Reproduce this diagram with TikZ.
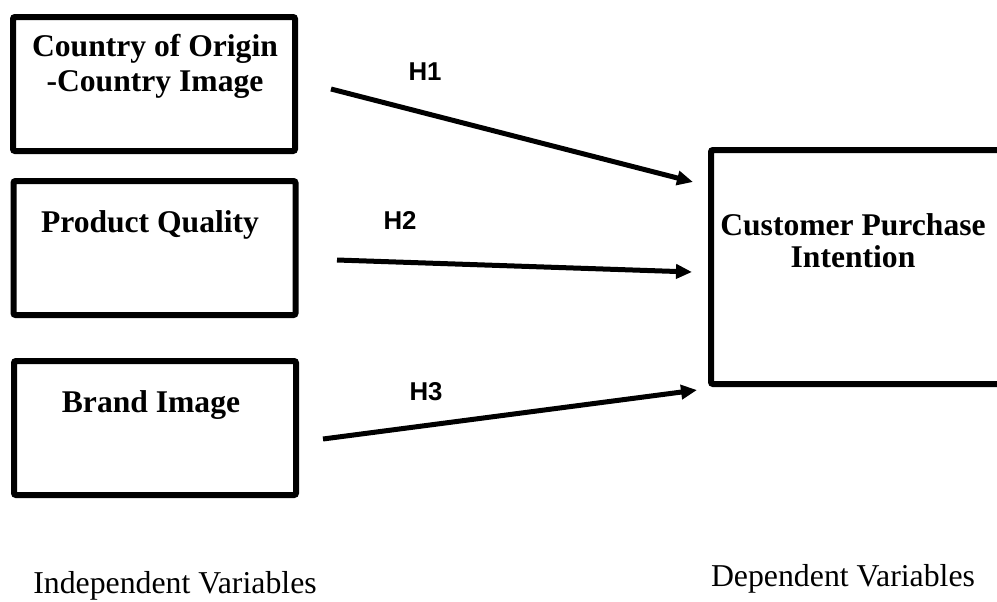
\documentclass[tikz,border=0pt]{standalone}
\usepackage{fontspec}
\setmainfont{Liberation Serif}
\newfontfamily\hfont{Liberation Sans}
\usetikzlibrary{arrows.meta}

\begin{document}
\begin{tikzpicture}[x=0.5pt,y=-0.5pt,
    varbox/.style={draw,line width=3pt,rectangle,rounded corners=1pt,minimum width=141pt,minimum height=67pt},
    vartext/.style={inner sep=0pt,align=center,font=\fontsize{15.8}{17.5}\selectfont\bfseries},
    hyp/.style={line width=2.5pt,-{Triangle[length=8pt,width=7pt]}},
    hlabel/.style={inner sep=0pt,font=\hfont\fontsize{12.9}{15}\selectfont\bfseries},
    caption/.style={inner sep=0pt,anchor=base,font=\fontsize{15.9}{18}\selectfont}]
    \useasboundingbox (0,0) rectangle (997,601);

    \node[varbox] (coo) at (154,84) {};
    \node[varbox] (pq) at (154.5,248) {};
    \node[varbox] (bi) at (155,428) {};
    \node[draw,line width=3pt,rectangle,rounded corners=1pt,minimum width=150pt,minimum height=117pt] (cpi) at (861,267) {};

    \node[vartext] (cootext) at (155,66) {Country of Origin\\-Country Image};
    \node[vartext] (pqtext) at (150,225) {Product Quality};
    \node[vartext] (bitext) at (151,405) {Brand Image};
    \node[vartext,font=\fontsize{15.8}{16}\selectfont\bfseries] (cpitext) at (853,241) {Customer Purchase\\Intention};

    \coordinate (h1s) at (331,89);
    \coordinate (h1e) at (693,182);
    \coordinate (h2s) at (337,260);
    \coordinate (h2e) at (692,272);
    \coordinate (h3s) at (323,439);
    \coordinate (h3e) at (697,390);

    \draw[hyp] (h1s) -- (h1e);
    \draw[hyp] (h2s) -- (h2e);
    \draw[hyp] (h3s) -- (h3e);

    \node[hlabel] (h1) at (425,72) {H1};
    \node[hlabel] (h2) at (400,220) {H2};
    \node[hlabel] (h3) at (426,392) {H3};

    \node[caption] (indep) at (175,593) {Independent Variables};
    \node[caption] (dep) at (843,586) {Dependent Variables};
\end{tikzpicture}
\end{document}
